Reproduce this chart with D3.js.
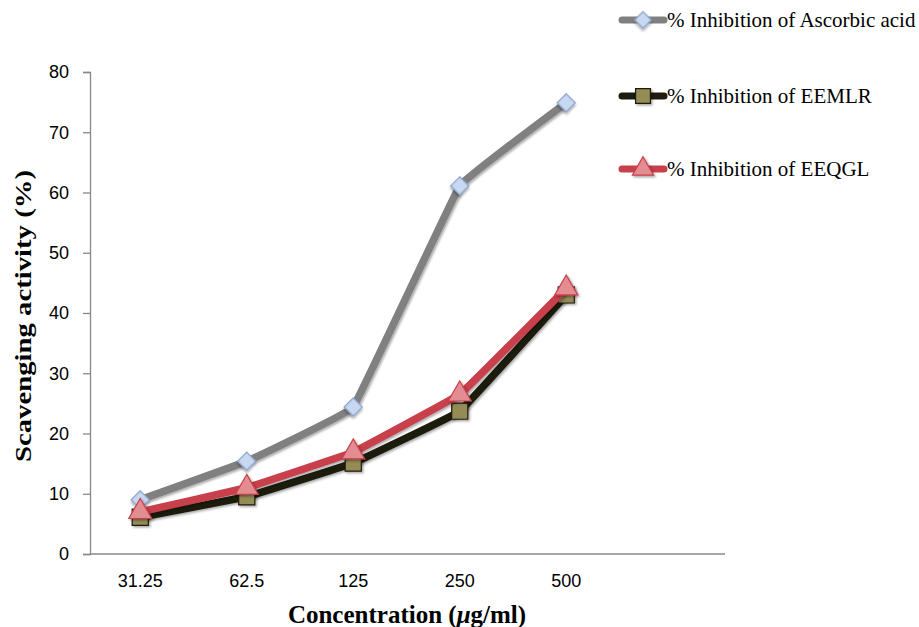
<!DOCTYPE html>
<html><head><meta charset="utf-8">
<script src="https://cdn.jsdelivr.net/npm/d3@7"></script>
<style>body{margin:0;background:#fff}svg{display:block}</style>
</head><body>
<svg id="c" width="919" height="627"></svg>
<script>
const categories = ["31.25", "62.5", "125", "250", "500"];
const ascorbic = [9.0, 15.4, 24.4, 61.1, 74.9];
const eemlr = [6.1, 9.5, 15.1, 23.7, 43.0];
const eeqgl = [7.0, 11.0, 16.9, 26.5, 44.1];
const seriesNames = ["% Inhibition of Ascorbic acid", "% Inhibition of EEMLR", "% Inhibition of EEQGL"];
const yTicks = [0, 10, 20, 30, 40, 50, 60, 70, 80];

const svg = d3.select("#c");
const defs = svg.append("defs");
const f = defs.append("filter").attr("id","sh").attr("x","-50%").attr("y","-50%").attr("width","200%").attr("height","200%");
f.append("feDropShadow").attr("dx",1.5).attr("dy",1.5).attr("stdDeviation",1.2).attr("flood-color","#000").attr("flood-opacity",0.35);

const x = d3.scaleBand().domain(categories).range([87, 619.5]);
const xc = d => x(d) + x.bandwidth()/2;
const y = d3.scaleLinear().domain([0, 80]).range([554, 72]);

// axes
const yAxis = d3.axisLeft(y).tickValues(yTicks).tickSize(7).tickPadding(14);
const gy = svg.append("g").attr("transform","translate(90,0)").call(yAxis);
gy.select(".domain").attr("stroke","#888").attr("stroke-width",1.3);
gy.selectAll(".tick line").attr("stroke","#888").attr("stroke-width",1.3);
gy.selectAll(".tick text").attr("font-family","Liberation Sans, Arial, sans-serif").attr("font-size",18).attr("fill","#000");

svg.append("line").attr("x1",90).attr("x2",725).attr("y1",y(0)).attr("y2",y(0)).attr("stroke","#888").attr("stroke-width",1.3);

const gx = svg.append("g").attr("transform",`translate(0,${y(0)})`).call(d3.axisBottom(x).tickSize(0).tickPadding(20));
gx.select(".domain").remove();
gx.selectAll(".tick text").attr("font-family","Liberation Sans, Arial, sans-serif").attr("font-size",18).attr("fill","#000");

// titles
svg.append("text").attr("transform","translate(31,316) rotate(-90)").attr("text-anchor","middle")
  .attr("font-family","Liberation Serif, Times New Roman, serif").attr("font-weight","bold").attr("font-size",24)
  .attr("textLength",292).attr("lengthAdjust","spacingAndGlyphs")
  .text("Scavenging activity (%)");
const xt = svg.append("text").attr("x",407).attr("y",623).attr("text-anchor","middle")
  .attr("font-family","Liberation Serif, Times New Roman, serif").attr("font-weight","bold").attr("font-size",25);
xt.append("tspan").text("Concentration (");
xt.append("tspan").attr("font-style","italic").text("μ");
xt.append("tspan").text("g/ml)");

const series = [
  {name: seriesNames[0], values: ascorbic, color:"#808080", mark:"diamond", fill:"#c6d8f2", mstroke:"#8aa2c8"},
  {name: seriesNames[1], values: eemlr, color:"#1f1b10", mark:"square", fill:"#948b54", mstroke:"#1f1b10"},
  {name: seriesNames[2], values: eeqgl, color:"#c8404b", mark:"triangle", fill:"#e38c92", mstroke:"#c8404b"}
];

const line = d3.line().x((d,i)=>xc(categories[i])).y(d=>y(d)).curve(d3.curveCardinal.tension(0.85));

function marker(g, s, cx, cy, scale){
  let sym;
  if(s.mark==="diamond") sym = d3.symbol(d3.symbolSquare, 165*scale);
  else if(s.mark==="square") sym = d3.symbol(d3.symbolSquare, 260*scale);
  else sym = d3.symbol(d3.symbolTriangle, 230*scale);
  g.append("path").attr("d", sym())
    .attr("transform", `translate(${cx},${cy})` + (s.mark==="diamond"?" rotate(45)":""))
    .attr("fill", s.fill).attr("stroke", s.mstroke).attr("stroke-width", 1.2).attr("filter","url(#sh)");
}

series.forEach(s=>{
  const g = svg.append("g");
  g.append("path").datum(s.values).attr("d", line).attr("fill","none").attr("stroke", s.color)
    .attr("stroke-width",7.5).attr("stroke-linejoin","round").attr("filter","url(#sh)");
  s.values.forEach((v,i)=> marker(g, s, xc(categories[i]), y(v), 1));
});

// legend
const legY = [20, 96, 169];
series.forEach((s,i)=>{
  const g = svg.append("g");
  g.append("line").attr("x1",622).attr("x2",664).attr("y1",legY[i]).attr("y2",legY[i])
    .attr("stroke",s.color).attr("stroke-width",7).attr("stroke-linecap","round");
  marker(g, s, 643, legY[i], 0.85);
  g.append("text").attr("x",667).attr("y",legY[i]+7).attr("font-family","Liberation Serif, Times New Roman, serif")
    .attr("font-size",21).attr("fill","#000").text(s.name);
});
</script>
</body></html>
